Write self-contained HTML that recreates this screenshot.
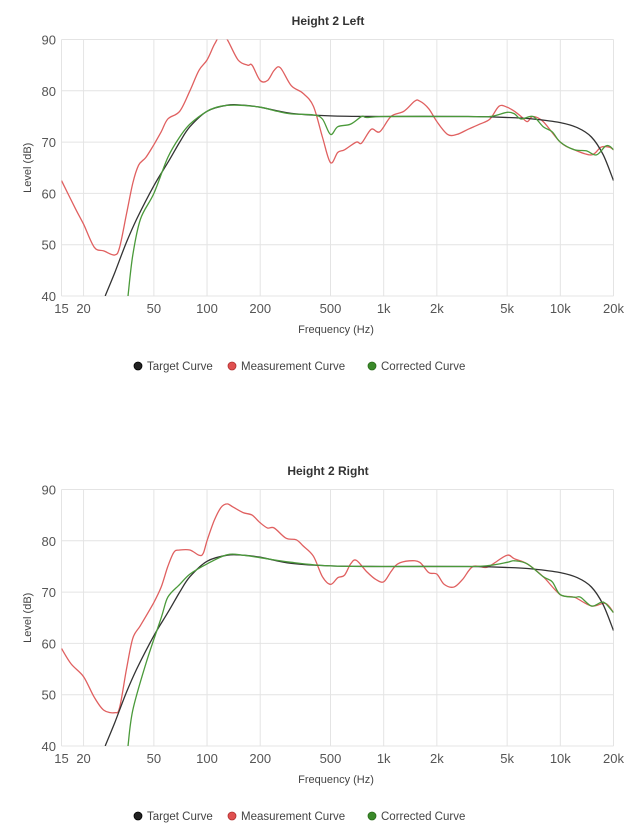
<!DOCTYPE html>
<html><head><meta charset="utf-8"><style>
html,body{margin:0;padding:0;background:#fff;}
svg{display:block;font-family:"Liberation Sans",sans-serif;}
</style></head><body>
<svg id="s" width="642" height="840" viewBox="0 0 642 840"></svg>
<script>
const NS="http://www.w3.org/2000/svg";
const s=document.getElementById('s');
const X0=61.5,X1=613.5,lf0=Math.log10(15),lf1=Math.log10(20000);
function fx(f){return X0+(Math.log10(f)-lf0)/(lf1-lf0)*(X1-X0);}
function el(t,a,txt){const e=document.createElementNS(NS,t);for(const k in a)e.setAttribute(k,a[k]);if(txt!=null)e.textContent=txt;s.appendChild(e);return e;}
function path(pts){let d='M'+pts[0][0].toFixed(1)+','+pts[0][1].toFixed(1);
for(let i=0;i<pts.length-1;i++){const p0=pts[i-1]||pts[i],p1=pts[i],p2=pts[i+1],p3=pts[i+2]||p2;
const c1=[p1[0]+(p2[0]-p0[0])/6,p1[1]+(p2[1]-p0[1])/6],c2=[p2[0]-(p3[0]-p1[0])/6,p2[1]-(p3[1]-p1[1])/6];
d+=`C${c1[0].toFixed(1)},${c1[1].toFixed(1)} ${c2[0].toFixed(1)},${c2[1].toFixed(1)} ${p2[0].toFixed(1)},${p2[1].toFixed(1)}`;}return d;}
function parse(str){return str.trim().split(/\s*,\s*/).map(p=>p.split(':').map(Number));}
const target=parse("26.5:40,30:44.5,35:50.5,40:55,50:61.5,60:66,70:70,80:73,100:76,130:77.2,160:77.2,200:76.8,300:75.6,500:75.1,1000:75,3000:75,5000:74.8,7000:74.5,10000:73.8,12500:72.8,15000:71,17500:67.5,20000:62.5");
const charts=[
{oy:0,title:"Height 2 Left",
red:"15:62.5,18:57,20:54,23:49.5,26:48.8,30:48,32:49.5,35:56,38:62,41:65.5,45:67,50:69.5,55:72,60:74.5,70:76,80:80,90:84,100:86,110:89,120:91,130:90,150:86,170:85,180:85,200:82,220:82,240:84,260:84.5,300:81,350:79.5,400:77,450:71,500:66,550:68,600:68.5,700:70,750:69.8,850:72.5,950:72,1100:75,1300:76,1500:78,1600:78,1800:76.5,2000:74,2300:71.5,2600:71.5,3000:72.5,3500:73.5,4000:74.5,4500:77,5000:76.8,5500:76,6000:75,6500:74,7000:75,8000:74,10000:70,12000:68.5,15000:67.5,17000:69,19000:69,20000:68.5",
green:"35.7:40,38:48,42:55,50:60,60:67,70:71,80:73.5,100:76,120:77,150:77.2,200:76.8,250:76,300:75.5,400:75.3,450:74.5,500:71.5,550:73,650:73.5,750:75,800:74.8,1000:75,2000:75,3000:75,4000:75,5000:75.8,5500:75.5,6000:74.5,7000:75,8000:73,9000:72,10000:70,12000:68.5,14000:68.3,16000:67.5,18000:69.2,19000:69.2,20000:68.5"},
{oy:450,title:"Height 2 Right",
red:"15:59,17:56,20:53.5,23:49.5,26:47,30:46.5,32:47.5,35:55,38:61,42:63.5,50:68,55:71,60:75,65:77.8,70:78.2,80:78.2,90:77.2,95:77.5,100:80,110:84,120:86.5,130:87.2,140:86.6,160:85.5,180:85,200:83.5,220:82.5,240:82.5,280:80.5,320:80.2,350:79,400:77,450:73,500:71.5,550:72.8,600:73.3,650:75.5,700:76.2,800:74,900:72.5,1000:72,1100:74,1200:75.5,1400:76.1,1600:75.8,1800:73.8,2000:73.5,2200:71.5,2500:71,2800:72.5,3200:75,3800:74.8,4200:75.6,5000:77.2,5500:76.5,6500:75.5,8000:73,10000:69.5,12000:69,15000:67.3,18000:67.8,20000:66",
green:"35.7:40,38:47,45:56,55:65,60:69,70:71.5,80:73.5,100:75.5,130:77.3,160:77.2,200:76.7,300:75.8,500:75.1,1000:75,3000:75,4000:75.2,5000:75.8,5500:76.1,6500:75.5,8000:73,9000:72,10000:69.5,12000:69,13000:69,15000:67.3,17000:68,18000:67.8,20000:66"}];
const ticks=[[15,"15"],[20,"20"],[50,"50"],[100,"100"],[200,"200"],[500,"500"],[1000,"1k"],[2000,"2k"],[5000,"5k"],[10000,"10k"],[20000,"20k"]];
charts.forEach((c,i)=>{
const Y0=39.5+c.oy,Y1=296+c.oy;const fy=v=>Y0+(90-v)/50*(Y1-Y0);
el('text',{x:328,y:25+c.oy,'text-anchor':'middle','font-size':12,'font-weight':'bold',fill:'#333'},c.title);
for(let v=40;v<=90;v+=10){const y=fy(v);el('line',{x1:X0,x2:X1,y1:y,y2:y,stroke:'#e4e4e4','stroke-width':1});
el('text',{x:56,y:y+5,'text-anchor':'end','font-size':13,fill:'#555'},v);}
ticks.forEach(t=>{const x=fx(t[0]);el('line',{x1:x,x2:x,y1:Y0,y2:Y1,stroke:'#e4e4e4','stroke-width':1});
el('text',{x:x,y:Y1+17,'text-anchor':'middle','font-size':13,fill:'#555'},t[1]);});
el('text',{x:336,y:Y1+37,'text-anchor':'middle','font-size':11,fill:'#444'},"Frequency (Hz)");
el('text',{x:0,y:0,'text-anchor':'middle','font-size':11,fill:'#444',transform:`translate(31,${(Y0+Y1)/2}) rotate(-90)`},"Level (dB)");
const cp=el('clipPath',{id:'c'+i});const r=document.createElementNS(NS,'rect');
r.setAttribute('x',X0);r.setAttribute('y',Y0);r.setAttribute('width',X1-X0);r.setAttribute('height',Y1-Y0);cp.appendChild(r);
const toP=a=>a.map(p=>[fx(p[0]),fy(p[1])]);
el('path',{d:path(toP(parse(c.red))),fill:'none',stroke:'#e06060','stroke-width':1.3,'clip-path':`url(#c${i})`});
el('path',{d:path(toP(target)),fill:'none',stroke:'#333','stroke-width':1.3,'clip-path':`url(#c${i})`});
el('path',{d:path(toP(parse(c.green))),fill:'none',stroke:'#4a9a3a','stroke-width':1.3,'clip-path':`url(#c${i})`});
const ly=366+c.oy;
[[138,'#222','#000',"Target Curve"],[232,'#e05050','#b03030',"Measurement Curve"],[372,'#3a8a2a','#2a6a1a',"Corrected Curve"]].forEach(l=>{
el('circle',{cx:l[0],cy:ly,r:4,fill:l[1],stroke:l[2],'stroke-width':0.8});
el('text',{x:l[0]+9,y:ly+4,'font-size':11.5,fill:'#444'},l[3]);});
});
</script>
</body></html>
